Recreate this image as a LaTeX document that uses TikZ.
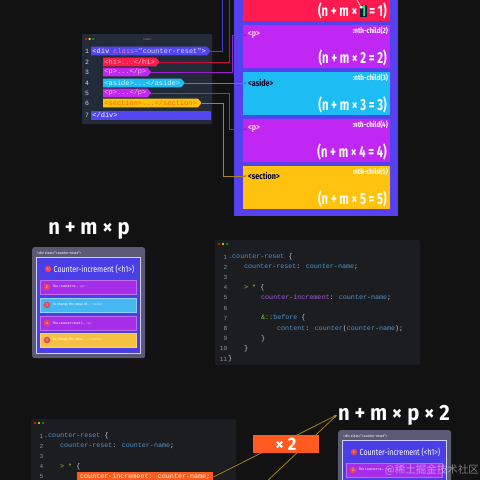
\documentclass[tikz,border=0pt]{standalone}
\usepackage{fontspec}
\setmainfont{Fira Sans}
\newfontfamily\condf[FakeStretch=0.8]{Fira Sans}
\newfontfamily\bigf[FakeStretch=0.92]{Fira Sans}
\newfontfamily\formf[FakeStretch=0.7]{Fira Sans}
\newfontfamily\codef{Liberation Mono}
\newfontfamily\cjkf{Noto Sans CJK SC}
\usetikzlibrary{shapes.symbols,arrows.meta}
\definecolor{bgc}{HTML}{121212}
\definecolor{winA}{HTML}{232B38}
\definecolor{winB}{HTML}{1C1D21}
\definecolor{cdiv}{HTML}{5146F0}
\definecolor{cbox}{HTML}{5542EE}
\definecolor{cred}{HTML}{FF1A4F}
\definecolor{cpur}{HTML}{C027F2}
\definecolor{ccya}{HTML}{1DBDF3}
\definecolor{cyel}{HTML}{FFC20E}
\definecolor{kdiv}{HTML}{4A3FD0}
\definecolor{kred}{HTML}{C8103F}
\definecolor{kpur}{HTML}{9B22C8}
\definecolor{kcya}{HTML}{1A9AD0}
\definecolor{kyel}{HTML}{A8841A}
\definecolor{cblu}{HTML}{4F93C8}
\definecolor{cgrn}{HTML}{8BC34A}
\definecolor{cvio}{HTML}{A35FD8}
\definecolor{clnum}{HTML}{8A8F98}
\definecolor{corg}{HTML}{FF5A1F}
\definecolor{pgray}{HTML}{5A5A74}
\definecolor{pblue}{HTML}{4A3EE6}
\definecolor{prpur}{HTML}{A62EE8}
\definecolor{prcya}{HTML}{45B8F2}
\definecolor{pryel}{HTML}{F4C143}
\definecolor{pdot}{HTML}{E8455A}
\definecolor{navy}{HTML}{0B1E3A}
\definecolor{hgreen}{HTML}{3DDC84}
\definecolor{gold}{HTML}{B08A22}
\newcommand\Cb[1]{\textcolor{cblu}{#1}}
\newcommand\Cg[1]{\textcolor{cgrn}{#1}}
\newcommand\Cv[1]{\textcolor{cvio}{#1}}
\newcommand\Cw[1]{\textcolor{white!80!black}{#1}}
\tikzset{
 lnA/.style={font=\codef\fontsize{6.5}{6.5}\selectfont, text=white!85!black, inner sep=0pt},
 hl/.style={shape=signal, signal to=east, signal pointer angle=100, inner xsep=1.2pt, inner ysep=0.3pt, minimum height=8.6pt, anchor=west, font=\codef\fontsize{7}{7}\selectfont},
 conn/.style={line width=0.7pt},
 tip/.style={-{Stealth[length=3pt,width=2.6pt]}},
 bigbox/.style={minimum width=147pt, minimum height=43pt, inner sep=0pt},
 formula/.style={font=\formf\bfseries\fontsize{16}{16}\selectfont, text=white, inner sep=0pt, anchor=base east},
 nth/.style={font=\condf\bfseries\fontsize{7.8}{7.8}\selectfont, text=white, inner sep=0pt, anchor=north east},
 tag/.style={font=\condf\bfseries\fontsize{9}{9}\selectfont, inner sep=1pt, anchor=west},
 code/.style={font=\codef\fontsize{6.7}{6.7}\selectfont, inner sep=0pt, anchor=west, text=cblu},
 cnum/.style={font=\codef\fontsize{6.2}{6.2}\selectfont, inner sep=0pt, anchor=east, text=clnum},
 bigtxt/.style={font=\bigf\bfseries\fontsize{22}{22}\selectfont, text=white, inner sep=1pt},
 pframe/.style={fill=pgray, rounded corners=2.5pt, minimum width=113pt, minimum height=111pt, anchor=north west, inner sep=0pt},
 ptitle/.style={font=\fontsize{3.6}{3.6}\selectfont, text=white, anchor=west, inner sep=0pt},
 pinner/.style={fill=pblue, draw=white!75!pblue, line width=0.9pt, minimum width=104pt, minimum height=96pt, anchor=north west, inner sep=0pt},
 pnum/.style={circle, fill=pdot, minimum size=6.5pt, inner sep=0pt, font=\fontsize{3.5}{3.5}\selectfont, text=white},
 phead/.style={font=\condf\fontsize{8.8}{8.8}\selectfont, text=white, anchor=west, inner sep=0pt},
 prowbox/.style={minimum width=96pt, minimum height=14pt, inner sep=0pt, line width=0.4pt},
 ptext/.style={font=\fontsize{3.4}{3.4}\selectfont, text=white, anchor=west, inner sep=0pt},
}
\newcommand\minipanel[3]{%
\begin{scope}[shift={(#2,#3)}]
\node[pframe] (#1frame) at (0,0) {};
\node[ptitle] (#1title) at (5,6) {<div class="counter-reset">};
\node[pinner] (#1inner) at (4,10) {};
\node[pnum] (#1n1) at (16,22) {1};
\node[phead] (#1head) at (21.5,22) {Counter-increment (<h1>)};
\node[prowbox, fill=prpur, draw=white!30!prpur] (#1r2) at (56,40) {};
\node[pnum] (#1n2) at (15,40) {2};
\node[ptext] (#1t2) at (20.5,40) {The counter-re...\ \ \textcolor{white!60!prpur}{<p>}};
\node[prowbox, fill=prcya, draw=white!40!prcya] (#1r3) at (56,58) {};
\node[pnum] (#1n3) at (15,58) {3};
\node[ptext] (#1t3) at (20.5,58) {To change the value of...\ \ \textcolor{white!60!prcya}{<aside>}};
\node[prowbox, fill=prpur, draw=white!30!prpur] (#1r4) at (56,76) {};
\node[pnum] (#1n4) at (15,76) {4};
\node[ptext] (#1t4) at (20.5,76) {The counter-reset (...\ \ \textcolor{white!60!prpur}{<p>}};
\node[prowbox, fill=pryel, draw=white!30!pryel] (#1r5) at (56,93) {};
\node[pnum] (#1n5) at (15,93) {5};
\node[ptext] (#1t5) at (20.5,93) {To change the value ...\ \ \textcolor{white!60!pryel}{<section>}};
\end{scope}}
\begin{document}
\begin{tikzpicture}[x=1pt,y=-1pt]
\useasboundingbox (0,0) rectangle (480,480);
\fill[bgc] (0,0) rectangle (480,480);
\clip (0,0) rectangle (480,480);

% ---------- top-left code window ----------
\fill[winA, rounded corners=1pt] (82,34) rectangle (212,124);
\fill[red!80!orange] (86,39) circle (1.2);
\fill[yellow!85!orange] (89.6,39) circle (1.2);
\fill[green!70!black] (93.2,39) circle (1.2);
\node[font=\fontsize{3}{3}\selectfont, text=white!55!black, inner sep=0pt] (wtitle) at (147,39) {index};
\foreach \i/\yy in {1/51,2/62,3/72,4/83,5/93,6/103,7/115} \node[lnA] (ln\i) at (87,\yy) {\i};
\node[hl, fill=cdiv, text=white] (l1) at (91,51) {<div \textcolor{magenta!55!white}{class}\textcolor{magenta!40!white}{=}\textcolor{white!85!blue}{"counter-reset"}>};
\node[hl, fill=cred, text=red!25!white] (l2) at (103,62) {<h1>...</h1>};
\node[hl, fill=cpur, text=magenta!25!white] (l3) at (103,72) {<p>...</p>};
\node[hl, fill=ccya, text=white!85!cyan] (l4) at (103,83) {<aside>...</aside>};
\node[hl, fill=cpur, text=magenta!25!white] (l5) at (103,93) {<p>...</p>};
\node[hl, fill=cyel, text=orange!80!red] (l6) at (103,103) {<section>...</section>};
\fill[cdiv] (91,110.5) rectangle (211,119.5);
\node[font=\codef\fontsize{7}{7}\selectfont, text=white, anchor=west, inner sep=1.2pt] (l7) at (91,115) {</div>};

% ---------- right stack ----------
\fill[cbox] (234,-10) rectangle (398,216);
\node[bigbox, fill=cred] (b1) at (316.5,-0.5) {};
\node[bigbox, fill=cpur] (b2) at (316.5,46.5) {};
\node[bigbox, fill=ccya] (b3) at (316.5,93.5) {};
\node[bigbox, fill=cpur] (b4) at (316.5,140.5) {};
\node[bigbox, fill=cyel] (b5) at (316.5,187.5) {};
\node[formula] (f1) at (387,16.5) {(n + m × {\setlength\fboxsep{0.8pt}\colorbox{navy}{\textcolor{hgreen}{1}}} = 1)};
\coordinate (pd) at (361,7);
\draw[white, line width=0.5pt] (pd) -- (356,-2);
\fill[white] (pd) circle (1.6);
\node[nth] (n2) at (388,26.5) {:nth-child(2)};
\node[nth] (n3) at (388,73.5) {:nth-child(3)};
\node[nth] (n4) at (388,120.5) {:nth-child(4)};
\node[nth] (n5) at (388,167.5) {:nth-child(5)};
\node[formula] (f2) at (387,63.5) {(n + m × 2 = 2)};
\node[formula] (f3) at (387,110.5) {(n + m × 3 = 3)};
\node[formula] (f4) at (387,157.5) {(n + m × 4 = 4)};
\node[formula] (f5) at (387,204.5) {(n + m × 5 = 5)};
\node[tag, text=magenta!20!white] (lab2) at (247,35) {<p>};
\node[tag, text=black!85!blue] (lab3) at (247,83) {<aside>};
\node[tag, text=magenta!20!white] (lab4) at (247,129) {<p>};
\node[tag, text=black!85!blue] (lab5) at (247,176) {<section>};

% ---------- connectors top ----------
\coordinate (t1) at (222,-2);
\coordinate (t2) at (229,-2);
\coordinate (k3) at (232,35);
\coordinate (k5) at (229,129);
\coordinate (k6) at (223,176);
\draw[conn, kdiv] (l1.east) -| (t1);
\draw[conn, kred] (l2.east) -| (t2);
\draw[conn, kpur, tip] (l3.east) -| (k3) -- (lab2.west);
\draw[conn, kcya, tip] (l4.east) -- (lab3.west);
\draw[conn, kpur, tip] (l5.east) -| (k5) -- (lab4.west);
\draw[conn, kyel, tip] (l6.east) -| (k6) -- (lab5.west);

% ---------- middle ----------
\node[bigtxt] (nmp) at (89,231) {n + m × p};
\minipanel{pa}{32}{247}

\fill[winB, rounded corners=2pt] (215,240) rectangle (420,365);
\fill[red!80!orange] (219,244) circle (1.2);
\fill[yellow!85!orange] (223,244) circle (1.2);
\fill[green!70!black] (227,244) circle (1.2);
\foreach \i in {1,...,11} \node[cnum] (mn\i) at (227.5,{257+(\i-1)*10.2}) {\i};
\node[code] (m1) at (228,257) {\Cb{.counter}\Cg{-}\Cb{reset} \Cw{\{}};
\node[code] (m2) at (244,267.2) {\Cb{counter}\Cg{-}\Cb{reset}\Cw{:} \Cb{counter}\Cg{-}\Cb{name}\Cw{;}};
\node[code] (m4) at (244,287.6) {\Cg{>} \textcolor{yellow!70!green}{*} \Cw{\{}};
\node[code] (m5) at (261,297.8) {\Cv{counter}\Cg{-}\Cv{increment}\Cw{:} \Cb{counter}\Cg{-}\Cb{name}\Cw{;}};
\node[code] (m7) at (261,318.2) {\Cg{\&::}\Cb{before} \Cw{\{}};
\node[code] (m8) at (277,328.4) {\Cb{content}\Cw{:} \Cb{counter}\Cw{(}\Cb{counter}\Cg{-}\Cb{name}\Cw{);}};
\node[code] (m9) at (261,338.6) {\Cw{\}}};
\node[code] (m10) at (244,348.8) {\Cw{\}}};
\node[code] (m11) at (228,359) {\Cw{\}}};

% ---------- bottom ----------
\fill[winB, rounded corners=2pt] (31,419) rectangle (236,495);
\fill[red!80!orange] (35,423) circle (1.2);
\fill[yellow!85!orange] (39,423) circle (1.2);
\fill[green!70!black] (43,423) circle (1.2);
\foreach \i in {1,...,5} \node[cnum] (bn\i) at (43.5,{436+(\i-1)*10.2}) {\i};
\node[code] (c1) at (44,436) {\Cb{.counter}\Cg{-}\Cb{reset} \Cw{\{}};
\node[code] (c2) at (60,446.2) {\Cb{counter}\Cg{-}\Cb{reset}\Cw{:} \Cb{counter}\Cg{-}\Cb{name}\Cw{;}};
\node[code] (c4) at (60,466.6) {\Cg{>} \textcolor{yellow!70!green}{*} \Cw{\{}};
\node[code, fill=corg, minimum width=136pt, minimum height=10pt, inner xsep=1pt, text=white!85!yellow] (hl5) at (77,477) {counter\textcolor{yellow!80!white}{-}increment: counter\textcolor{yellow!80!white}{-}name;};

\node[bigtxt] (nmp2) at (394,415) {n + m × p × 2};
\coordinate (offB) at (262,486);
\draw[conn, gold, tip] (hl5.east) -- (nmp2.west);
\draw[conn, gold, tip] (offB) -- (nmp2.west);
\node[fill=corg, minimum width=66pt, minimum height=18pt, inner sep=0pt, font=\bigf\bfseries\fontsize{18}{18}\selectfont, text=white] (x2) at (286,444) {× 2};

\minipanel{pb}{338}{430}

\node[font=\cjkf\fontsize{10.5}{10.5}\selectfont, text=white, opacity=0.45, anchor=east, inner sep=0pt] (wm) at (479,470) {@稀土掘金技术社区};
\end{tikzpicture}
\end{document}
